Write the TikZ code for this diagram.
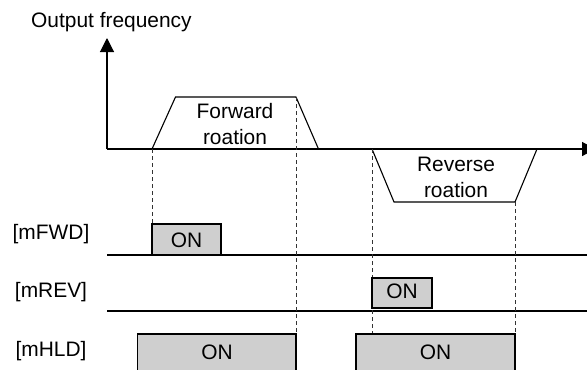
\documentclass[tikz,border=0pt]{standalone}
\usepackage{fontspec}
\setmainfont{Liberation Sans}
\usetikzlibrary{arrows.meta}
\begin{document}
\begin{tikzpicture}[x=1bp,y=-1bp,
  txt/.style={font=\fontsize{21}{26}\selectfont, inner sep=0pt, align=center},
  sig/.style={line width=1.1bp},
  axisarrow/.style={sig, -{Triangle[width=14bp,length=14bp]}},
  guide/.style={line width=1bp, dash pattern=on 4bp off 3bp, draw=black!80},
  onbox/.style={draw, line width=1.6bp, fill=black!19}]
\useasboundingbox (0,0) rectangle (587,369);
\clip (0,0) rectangle (587,369);
% axes
\coordinate (o) at (107,149);
\coordinate (ytop) at (107,38);
\coordinate (xend) at (596,149);
\draw[axisarrow] (o) -- (ytop);
\draw[axisarrow] (o) -- (xend);
\node[txt, anchor=west] (ylab) at (31,22) {Output frequency};
% trapezoids
\coordinate (f1) at (152,149);
\coordinate (f2) at (175.5,97);
\coordinate (f3) at (296,97);
\coordinate (f4) at (318.5,149);
\draw[sig] (f1) -- (f2) -- (f3) -- (f4);
\node[txt] (fwdtxt) at (235,124) {Forward\\roation};
\coordinate (r1) at (372,149);
\coordinate (r2) at (394,202);
\coordinate (r3) at (515,202);
\coordinate (r4) at (537,149);
\draw[sig] (r1) -- (r2) -- (r3) -- (r4);
\node[txt] (revtxt) at (456,177.5) {Reverse\\roation};
% signal baselines
\coordinate (fwdl) at (107,255);
\coordinate (fwdr) at (587,255);
\coordinate (revl) at (107,311);
\coordinate (revr) at (587,311);
\draw[sig] (fwdl) -- (fwdr);
\draw[sig] (revl) -- (revr);
% guides
\coordinate (g1b) at (152,224);
\coordinate (g2b) at (296,334);
\coordinate (g3b) at (372,334);
\coordinate (g4b) at (515,334);
\draw[guide] (f1) -- (g1b);
\draw[guide] (f3) -- (g2b);
\draw[guide] (r1) -- (g3b);
\draw[guide] (r3) -- (g4b);
% labels
\node[txt] (lfwd) at (51,234) {[mFWD]};
\node[txt] (lrev) at (51,292) {[mREV]};
\node[txt] (lhld) at (51,351) {[mHLD]};
% ON boxes
\draw[onbox] (152,224) rectangle (221,255);
\node[txt] (onfwd) at (186.5,240) {ON};
\draw[onbox] (372,278) rectangle (432,308);
\node[txt] (onrev) at (402,291.5) {ON};
\draw[onbox] (137.5,334) rectangle (296,385);
\node[txt] (onhld1) at (217,352.5) {ON};
\draw[onbox] (356,334) rectangle (515,385);
\node[txt] (onhld2) at (435.5,352.5) {ON};
\end{tikzpicture}
\end{document}
